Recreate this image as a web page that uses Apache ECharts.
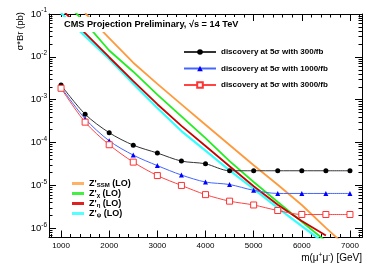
<!DOCTYPE html>
<html><head><meta charset="utf-8">
<script src="https://cdn.jsdelivr.net/npm/echarts@6/dist/echarts.min.js"></script>
<style>html,body{margin:0;padding:0;background:#fff}#c{width:382px;height:274px}</style>
</head><body><div id="c"></div>
<script>
// ---- data ----
const massPoints = [1000,1500,2000,2500,3000,3500,4000,4500,5000,5500,6000,6500,7000];
const disc300  = [2.2e-3,4.6e-4,1.7e-4,8.7e-5,5.7e-5,3.7e-5,3.2e-5,2.2e-5,2.2e-5,2.2e-5,2.2e-5,2.2e-5,2.2e-5];
const disc1000 = [1.95e-3,3.6e-4,1.1e-4,5.1e-5,2.9e-5,1.75e-5,1.2e-5,1.05e-5,7.7e-6,6.5e-6,6.5e-6,6.5e-6,6.5e-6];
const disc3000 = [1.85e-3,3.0e-4,8.9e-5,3.5e-5,1.7e-5,1.0e-5,6.1e-6,4.3e-6,3.5e-6,2.6e-6,2.1e-6,2.1e-6,2.1e-6];

const theoryMass = [1000,1500,2000,2500,3000,3500,4000,4500,5000,5500,6000,6500,7000];
const zSSM = [null,0.105,0.0275,7.3e-3,2.34e-3,7.8e-4,2.6e-4,8.8e-5,2.95e-5,1.04e-5,3.5e-6,1.02e-6,3.2e-7];
const zChi = [0.24,0.063,0.0141,4.5e-3,1.31e-3,4.1e-4,1.27e-4,3.7e-5,1.2e-5,4.1e-6,1.42e-6,5.0e-7,null];
const zEta = [0.133,0.036,9.8e-3,2.72e-3,7.85e-4,2.45e-4,8.3e-5,2.8e-5,9.6e-6,3.55e-6,1.48e-6,6.8e-7,null];
const zPsi = [0.105,0.0305,8.9e-3,2.36e-3,6.4e-4,1.86e-4,6.5e-5,2.24e-5,8.3e-6,3.0e-6,1.12e-6,4.3e-7,null];

const xMajorTicks = [1000,2000,3000,4000,5000,6000,7000];
const xMinorTicks = [];
for (let v = 800; v <= 7200; v += 200) if (v % 1000 !== 0) xMinorTicks.push(v);
const yMajorTicks = [1e-6,1e-5,1e-4,1e-3,1e-2,1e-1];
const yMinorTicks = [];
[-7,-6,-5,-4,-3,-2].forEach(function(e){ for (let m=2;m<=9;m++){ const v=m*Math.pow(10,e); if (v>6.1e-7 && v<0.1) yMinorTicks.push(v);} });

const X_MIN = 750, X_MAX = 7250, Y_MIN = 6.1e-7, Y_MAX = 0.1;

const names = {
  d300:'discovery at 5σ with 300/fb', d1000:'discovery at 5σ with 1000/fb', d3000:'discovery at 5σ with 3000/fb',
  ssm:'ZSSM', chi:'Zchi', eta:'Zeta', psi:'Zpsi'
};
const zLabels = {ZSSM:'{b|Z\'}{sub|SSM}{b| (LO)}', Zchi:'{b|Z\'}{sub|χ}{b| (LO)}', Zeta:'{b|Z\'}{sub|η}{b| (LO)}', Zpsi:'{b|Z\'}{sub|ψ}{b| (LO)}'};

function pairs(xs, ys){ const out=[]; xs.forEach(function(x,i){ if(ys[i]!=null) out.push([x,ys[i]]); }); return out; }

const FONT = 'Liberation Sans, Arial, Helvetica, sans-serif';
function xAx(pos, ticks, len, showLine, showLabel){
  return {type:'value', position:pos, min:X_MIN, max:X_MAX, gridIndex:0,
    axisLine:{show:showLine, onZero:false, lineStyle:{color:'#000', width:1}},
    axisTick:{show:true, inside:true, length:len, customValues:ticks, lineStyle:{color:'#000'}},
    axisLabel:{show:showLabel, customValues:xMajorTicks, margin:4, fontSize:8, color:'#000', fontFamily:FONT,
      formatter:function(v){ return String(Math.round(v)); }},
    splitLine:{show:false}};
}
function yAx(pos, ticks, len, showLine, showLabel){
  return {type:'log', logBase:10, position:pos, min:Y_MIN, max:Y_MAX, gridIndex:0,
    axisLine:{show:showLine, onZero:false, lineStyle:{color:'#000', width:1}},
    axisTick:{show:true, inside:true, length:len, customValues:ticks, lineStyle:{color:'#000'}},
    axisLabel:{show:showLabel, customValues:yMajorTicks, margin:2, color:'#000', fontFamily:FONT,
      formatter:function(v){ const e=Math.round(Math.log10(v)); return '{b|10}{s|'+e+'}'; },
      rich:{b:{fontSize:9.5, fontFamily:FONT, color:'#000'}, s:{fontSize:6.5, fontFamily:FONT, color:'#000', padding:[0,0,7,0]}}},
    splitLine:{show:false}};
}

const chart = echarts.init(document.getElementById('c'), null, {renderer:'canvas'});
chart.setOption({
  animation:false,
  backgroundColor:'#fff',
  grid:{left:49, right:20, top:14, bottom:36.5, containLabel:false},
  title:{text:'CMS Projection Preliminary, √s = 14 TeV', left:61, top:17, padding:[3,3,3,3], backgroundColor:'#fff',
    textStyle:{fontSize:9.2, fontWeight:'bold', fontFamily:FONT, color:'#000'}},
  xAxis:[ xAx('bottom', xMajorTicks, 7, true, true), xAx('bottom', xMinorTicks, 3.5, false, false),
          xAx('top', xMajorTicks, 7, true, false), xAx('top', xMinorTicks, 3.5, false, false) ],
  yAxis:[ yAx('left', yMajorTicks, 7, true, true), yAx('left', yMinorTicks, 3.5, false, false),
          yAx('right', yMajorTicks, 7, true, false), yAx('right', yMinorTicks, 3.5, false, false) ],
  legend:[
    {orient:'vertical', left:178, top:43, itemWidth:32, itemHeight:7, itemGap:8.5,
      data:[names.d300, names.d1000, names.d3000],
      textStyle:{fontSize:8, fontWeight:'bold', fontFamily:FONT, color:'#000'}},
    {orient:'vertical', left:67, top:173.5, itemWidth:12, itemHeight:3, itemGap:0, icon:'rect',
      data:[names.ssm, names.chi, names.eta, names.psi],
      formatter:function(n){ return zLabels[n]; },
      textStyle:{fontFamily:FONT, color:'#000', rich:{
        b:{fontSize:9, fontWeight:'bold', fontFamily:FONT, color:'#000', lineHeight:10},
        sub:{fontSize:6, fontWeight:'bold', fontFamily:FONT, color:'#000', padding:[4,0,0,0], lineHeight:10}}}}
  ],
  graphic:[
    {type:'text', x:20, y:12, rotation:Math.PI/2, style:{text:'σ*Br (pb)', fontSize:9.5, fontFamily:FONT, fill:'#000', align:'right', verticalAlign:'middle'}},
    {type:'text', x:362, y:258, style:{text:'{n|m(μ}{s|+}{n|μ}{s|-}{n|) [GeV]}', align:'right', verticalAlign:'middle',
      rich:{n:{fontSize:10, fontFamily:FONT, fill:'#000', color:'#000'}, s:{fontSize:6.5, fontFamily:FONT, color:'#000', padding:[0,0,6,0]}}}}
  ],
  series:[
    {name:names.ssm, type:'line', data:pairs(theoryMass,zSSM), showSymbol:false, symbol:'none', lineStyle:{color:'#ff9a3c', width:1.8}, itemStyle:{color:'#ffb266'}, z:2},
    {name:names.chi, type:'line', data:pairs(theoryMass,zChi), showSymbol:false, symbol:'none', lineStyle:{color:'#22ee22', width:1.8}, itemStyle:{color:'#44ee44'}, z:2},
    {name:names.psi, type:'line', data:pairs(theoryMass,zPsi), showSymbol:false, symbol:'none', lineStyle:{color:'#33ffff', width:2.2}, itemStyle:{color:'#55ffff'}, z:2},
    {name:names.eta, type:'line', data:pairs(theoryMass,zEta), showSymbol:false, symbol:'none', lineStyle:{color:'#cc0000', width:1.8}, itemStyle:{color:'#dd2222'}, z:3},
    {name:names.d300, type:'line', data:pairs(massPoints,disc300), smooth:0.3, symbol:'circle', symbolSize:5,
      lineStyle:{color:'#333', width:1}, itemStyle:{color:'#000'}, z:4},
    {name:names.d1000, type:'line', data:pairs(massPoints,disc1000), smooth:0.3, symbol:'triangle', symbolSize:5,
      lineStyle:{color:'#4466ff', width:1}, itemStyle:{color:'#0000ff'}, z:4},
    {name:names.d3000, type:'line', data:pairs(massPoints,disc3000), smooth:0.3, symbol:'rect', symbolSize:6,
      lineStyle:{color:'#ff4444', width:1}, itemStyle:{color:'#fff', borderColor:'#ff3333', borderWidth:1}, z:4}
  ]
});
</script></body></html>
